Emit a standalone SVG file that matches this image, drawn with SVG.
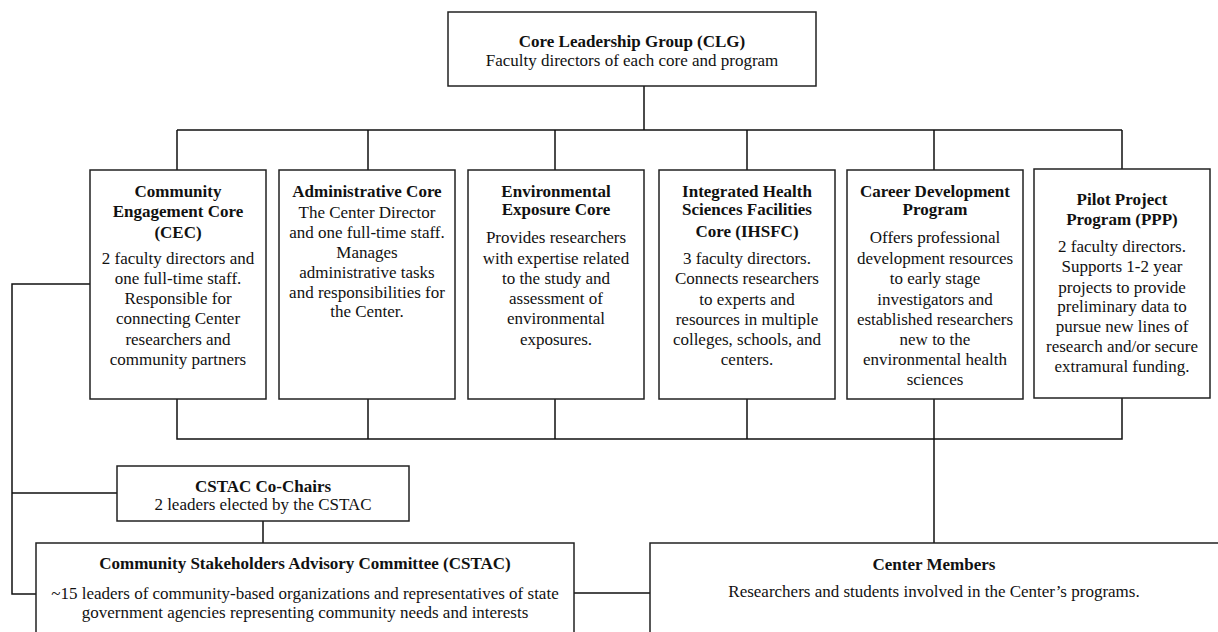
<svg xmlns="http://www.w3.org/2000/svg" width="1218" height="632" viewBox="0 0 1218 632">
<style>
.box{fill:#fff;stroke:#222;stroke-width:1.5}
.ln{fill:none;stroke:#111;stroke-width:1.5}
text{font-family:"Liberation Serif","Times New Roman",serif;font-size:17px;fill:#111;text-anchor:middle}
.b{font-weight:bold}
</style>
<rect width="1218" height="632" fill="#fff"/>
<g id="connectors">
<path class="ln" d="M644 86V130M177 130H1122M177 130V170M368 130V170M555 130V170M747 130V170M934 130V170M1122 130V169"/>
<path class="ln" d="M177 399V439H1122V398M368 399V439M555 399V439M747 399V439M934 399V543"/>
<path class="ln" d="M90 284H12V594H36M12 493H117M263 521V543M574 593H650"/>
</g>
<g id="clg">
<rect class="box" x="448" y="12" width="368" height="74"/>
<text class="b" x="632" y="47">Core Leadership Group (CLG)</text>
<text x="632" y="66">Faculty directors of each core and program</text>
</g>
<g id="cec">
<rect class="box" x="90" y="170" width="176" height="229"/>
<text class="b" x="178" y="197">Community</text>
<text class="b" x="178" y="217">Engagement Core</text>
<text class="b" x="178" y="238">(CEC)</text>
<text x="178" y="264">2 faculty directors and</text>
<text x="178" y="284">one full-time staff.</text>
<text x="178" y="304">Responsible for</text>
<text x="178" y="324">connecting Center</text>
<text x="178" y="345">researchers and</text>
<text x="178" y="365">community partners</text>
</g>
<g id="admin">
<rect class="box" x="279" y="170" width="176" height="229"/>
<text class="b" x="367" y="197">Administrative Core</text>
<text x="367" y="218">The Center Director</text>
<text x="367" y="238">and one full-time staff.</text>
<text x="367" y="258">Manages</text>
<text x="367" y="278">administrative tasks</text>
<text x="367" y="298">and responsibilities for</text>
<text x="367" y="317">the Center.</text>
</g>
<g id="env">
<rect class="box" x="468" y="170" width="176" height="229"/>
<text class="b" x="556" y="197">Environmental</text>
<text class="b" x="556" y="215">Exposure Core</text>
<text x="556" y="243">Provides researchers</text>
<text x="556" y="264">with expertise related</text>
<text x="556" y="284">to the study and</text>
<text x="556" y="304">assessment of</text>
<text x="556" y="324">environmental</text>
<text x="556" y="345">exposures.</text>
</g>
<g id="ihsfc">
<rect class="box" x="659" y="170" width="176" height="229"/>
<text class="b" x="747" y="197">Integrated Health</text>
<text class="b" x="747" y="215">Sciences Facilities</text>
<text class="b" x="747" y="237">Core (IHSFC)</text>
<text x="747" y="264">3 faculty directors.</text>
<text x="747" y="284">Connects researchers</text>
<text x="747" y="305">to experts and</text>
<text x="747" y="325">resources in multiple</text>
<text x="747" y="345">colleges, schools, and</text>
<text x="747" y="365">centers.</text>
</g>
<g id="career">
<rect class="box" x="847" y="170" width="176" height="229"/>
<text class="b" x="935" y="197">Career Development</text>
<text class="b" x="935" y="215">Program</text>
<text x="935" y="243">Offers professional</text>
<text x="935" y="264">development resources</text>
<text x="935" y="284">to early stage</text>
<text x="935" y="305">investigators and</text>
<text x="935" y="325">established researchers</text>
<text x="935" y="345">new to the</text>
<text x="935" y="365">environmental health</text>
<text x="935" y="385">sciences</text>
</g>
<g id="ppp">
<rect class="box" x="1034" y="169" width="176" height="229"/>
<text class="b" x="1122" y="205">Pilot Project</text>
<text class="b" x="1122" y="225">Program (PPP)</text>
<text x="1122" y="252">2 faculty directors.</text>
<text x="1122" y="272">Supports 1-2 year</text>
<text x="1122" y="293">projects to provide</text>
<text x="1122" y="312">preliminary data to</text>
<text x="1122" y="332">pursue new lines of</text>
<text x="1122" y="352">research and/or secure</text>
<text x="1122" y="372">extramural funding.</text>
</g>
<g id="cochairs">
<rect class="box" x="117" y="466" width="292" height="55"/>
<text class="b" x="263" y="492">CSTAC Co-Chairs</text>
<text x="263" y="510">2 leaders elected by the CSTAC</text>
</g>
<g id="cstac">
<rect class="box" x="36" y="543" width="538" height="100"/>
<text class="b" x="305" y="569">Community Stakeholders Advisory Committee (CSTAC)</text>
<text x="305" y="599">~15 leaders of community-based organizations and representatives of state</text>
<text x="305" y="618">government agencies representing community needs and interests</text>
</g>
<g id="members">
<rect class="box" x="650" y="543" width="580" height="100"/>
<text class="b" x="934" y="570">Center Members</text>
<text x="934" y="597">Researchers and students involved in the Center’s programs.</text>
</g>
</svg>
